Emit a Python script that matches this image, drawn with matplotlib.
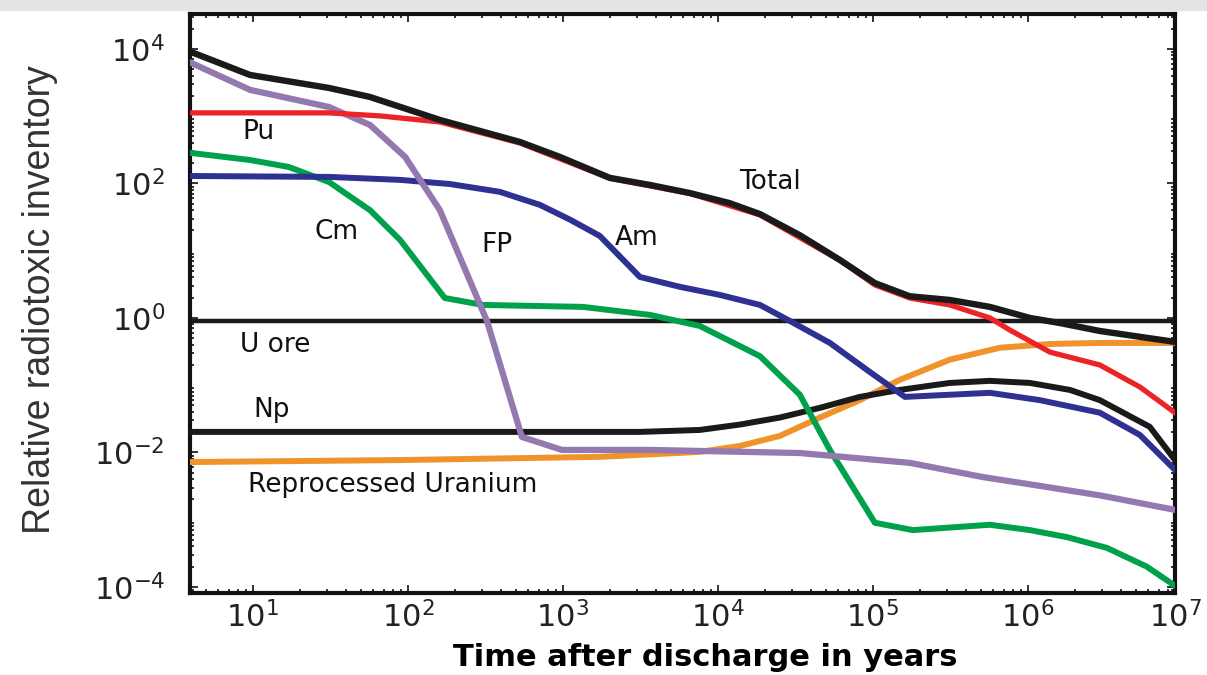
import matplotlib
matplotlib.use("Agg")
import matplotlib.pyplot as plt
from matplotlib.patches import Rectangle

# -----------------------------
# Data (years vs relative inventory)
# -----------------------------
total_t = [4, 9.6, 31, 57, 161, 528, 957, 2010, 3640, 6590, 1.19e4, 1.87e4,
           3.38e4, 6.12e4, 1.03e5, 1.73e5, 3.14e5, 5.69e5, 1.03e6, 1.61e6,
           2.91e6, 8.9e6]
total_v = [9000, 4100, 2630, 1930, 880, 414, 248, 121, 95, 72, 51, 35,
           17, 7.3, 3.3, 2.1, 1.85, 1.46, 1.0, 0.84, 0.64, 0.44]

pu_t = [4, 31, 66, 161, 528, 2010, 6590, 1.87e4, 6.12e4, 1.03e5, 1.73e5,
        3.14e5, 5.69e5, 7.66e5, 1.39e6, 2.91e6, 5.28e6, 8.9e6]
pu_v = [1120, 1120, 1010, 820, 400, 119, 71, 34, 7.2, 3.1, 1.98,
        1.56, 1.0, 0.66, 0.31, 0.20, 0.094, 0.039]

fp_t = [4, 9.6, 31, 57, 96, 161, 324, 544, 986, 3640, 3.38e4, 1.73e5,
        5.13e5, 1.08e6, 2.91e6, 8.9e6]
fp_v = [6200, 2460, 1370, 740, 248, 40, 0.90, 0.017, 0.0109, 0.0109,
        0.0098, 0.0070, 0.0043, 0.0033, 0.0023, 0.0014]

cm_t = [4, 9.6, 17, 31, 57, 89, 173, 305, 1345, 3640, 7650, 1.87e4,
        3.38e4, 5.28e4, 1.03e5, 1.81e5, 5.69e5, 1.03e6, 1.79e6, 3.24e6,
        5.86e6, 8.9e6]
cm_v = [284, 223, 176, 105, 40, 14.5, 1.98, 1.56, 1.46, 1.11, 0.76, 0.27,
        0.072, 0.0109, 0.0009, 0.0007, 0.00084, 0.0007, 0.00055, 0.00038,
        0.0002, 0.000104]

am_t = [4, 31, 89, 187, 392, 711, 1110, 1730, 3140, 5690, 1.03e4, 1.87e4,
        2.92e4, 5.28e4, 9.57e4, 1.61e5, 5.69e5, 1.19e6, 2.91e6, 5.28e6, 8.9e6]
am_v = [129, 125, 113, 98, 75, 48, 29, 16.6, 4.07, 2.9, 2.2, 1.56,
        0.90, 0.425, 0.157, 0.067, 0.077, 0.060, 0.039, 0.0182, 0.0055]

np_t = [4, 3140, 7650, 1.39e4, 2.51e4, 4.55e4, 8.24e4, 1.49e5, 3.14e5,
        5.69e5, 1.03e6, 1.87e6, 2.91e6, 6.12e6, 8.9e6]
np_v = [0.0202, 0.0202, 0.0216, 0.026, 0.033, 0.046, 0.067, 0.085, 0.108,
        0.116, 0.108, 0.085, 0.060, 0.024, 0.0077]

ru_t = [4, 89, 1730, 7650, 1.39e4, 2.51e4, 4.55e4, 8.24e4, 1.49e5, 3.14e5,
        6.59e5, 1.39e6, 2.91e6, 8.9e6]
ru_v = [0.0072, 0.0077, 0.0086, 0.0102, 0.0125, 0.0176, 0.033, 0.060,
        0.12, 0.24, 0.36, 0.41, 0.425, 0.425]

u_ore = 0.90

x_ticks = [1e1, 1e2, 1e3, 1e4, 1e5, 1e6]
y_ticks = [1e-4, 1e-2, 1e0, 1e2, 1e4]

labels = ["Pu", "Cm", "FP", "Am", "Total", "U ore", "Np", "Reprocessed Uranium"]
label_pos = [(0.070, 0.796), (0.149, 0.623), (0.312, 0.601), (0.453, 0.613),
             (0.589, 0.710), (0.086, 0.428), (0.083, 0.316), (0.206, 0.187)]

# -----------------------------
# Figure
# -----------------------------
plt.rcParams['mathtext.fontset'] = 'dejavusans'
fig = plt.figure(figsize=(12.07, 6.75), dpi=100)
fig.patches.append(Rectangle((0, 1 - 10 / 675), 1, 10 / 675,
                             transform=fig.transFigure, color='#e4e4e4', zorder=0))
ax = fig.add_axes([0.1574, 0.1215, 0.8161, 0.8578])

ax.axhline(u_ore, color='#1a1a1a', lw=3.2, zorder=2)
ax.plot(ru_t, ru_v, color='#f0932b', lw=4.3, zorder=3)
ax.plot(np_t, np_v, color='#1a1a1a', lw=4.3, zorder=3)
ax.plot(cm_t, cm_v, color='#00a14b', lw=4.3, zorder=4)
ax.plot(am_t, am_v, color='#2e3192', lw=4.3, zorder=4)
ax.plot(fp_t, fp_v, color='#9478b0', lw=4.5, zorder=5)
ax.plot(pu_t, pu_v, color='#ec2327', lw=3.8, zorder=6)
ax.plot(total_t, total_v, color='#1a1a1a', lw=4.6, zorder=7)

ax.set_xscale('log')
ax.set_yscale('log')
ax.set_xlim(3.93, 8.9e6)
ax.set_ylim(10 ** -4.09, 10 ** 4.52)
ax.set_xticks(x_ticks)
ax.set_yticks(y_ticks)

ax.tick_params(which='both', direction='in', top=True, right=True,
               width=1.2, colors='#111111')
ax.tick_params(which='major', length=6, labelsize=22, labelcolor='#222222')
ax.tick_params(which='minor', length=3)
ax.tick_params(axis='y', which='major', pad=18)
ax.tick_params(axis='x', which='major', pad=6)
for sp in ax.spines.values():
    sp.set_linewidth(3)
    sp.set_color('#111111')

# 10^7 label sits just past the right spine
ax.annotate(r'$10^{7}$', xy=(1e7, 0), xycoords=('data', 'axes fraction'),
            xytext=(-5, -6), textcoords='offset points', ha='center', va='top',
            fontsize=22, color='#222222', annotation_clip=False)

for txt, (px, py) in zip(labels, label_pos):
    ax.text(px, py, txt, transform=ax.transAxes, ha='center', va='center',
            fontsize=19, color='#111111')

ax.set_xlabel("Time after discharge in years", fontsize=22, fontweight='bold',
              family='DejaVu Sans', va='center')
ax.xaxis.set_label_coords(0.523, -0.112)
ax.set_ylabel("Relative radiotoxic inventory", fontsize=27,
              family='Liberation Sans', color='#333333', va='center')
ax.yaxis.set_label_coords(-0.152, 0.506)

fig.savefig("out.png", dpi=100)
